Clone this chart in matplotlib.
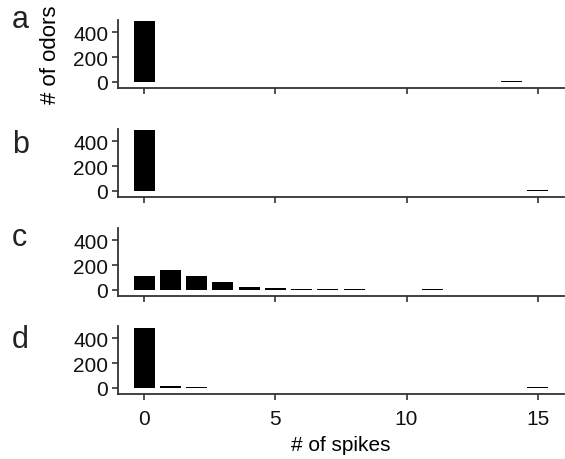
import matplotlib.pyplot as plt

plt.rcParams['font.family'] = ['Liberation Sans', 'DejaVu Sans']

# spike counts (x) and number of odors per panel
spikes_a = [0, 14]
odors_a = [495, 7]
spikes_b = [0, 15]
odors_b = [495, 7]
spikes_c = [0, 1, 2, 3, 4, 5, 6, 7, 8, 11]
odors_c = [108, 164, 115, 62, 20, 14, 8, 7, 7, 8]
spikes_d = [0, 1, 2, 15]
odors_d = [480, 14, 7, 7]

panels = [
    ('a', spikes_a, odors_a),
    ('b', spikes_b, odors_b),
    ('c', spikes_c, odors_c),
    ('d', spikes_d, odors_d),
]

W, H = 565, 460
fig = plt.figure(figsize=(W / 100, H / 100), dpi=100)

left = 118 / W
width = 1 - left - 0.002
height = 68 / H
# bottom spine position (px from top) and letter baseline for each panel
spine_px = [89, 198, 297, 395]
letter_px = [28, 153, 246, 348]

for (letter, xs, ys), sp, lp in zip(panels, spine_px, letter_px):
    ax = fig.add_axes([left, 1 - sp / H, width, height])
    ax.bar(xs, ys, width=0.8, color='black', edgecolor='none')
    ax.set_xlim(-1, 16)
    ax.set_ylim(-50, 500)
    ax.set_yticks([0, 200, 400])
    ax.set_xticks([0, 5, 10, 15])
    for side in ['top', 'right']:
        ax.spines[side].set_visible(False)
    for side in ['left', 'bottom']:
        ax.spines[side].set_linewidth(1.3)
        ax.spines[side].set_color('#333333')
    ax.tick_params(axis='both', labelsize=15, length=4, width=1.2, pad=3,
                   color='#333333', labelcolor='#111111')
    if letter != 'd':
        ax.tick_params(axis='x', labelbottom=False)
    else:
        ax.tick_params(axis='x', pad=7)
        ax.set_xlabel('# of spikes', fontsize=15, labelpad=5)
    fig.text(12 / W, 1 - lp / H, letter, fontsize=22,
             va='baseline', ha='left', color='#222222')
    if letter == 'a':
        ax.set_ylabel('# of odors', fontsize=16, labelpad=9)

fig.savefig('out.png', dpi=100)
